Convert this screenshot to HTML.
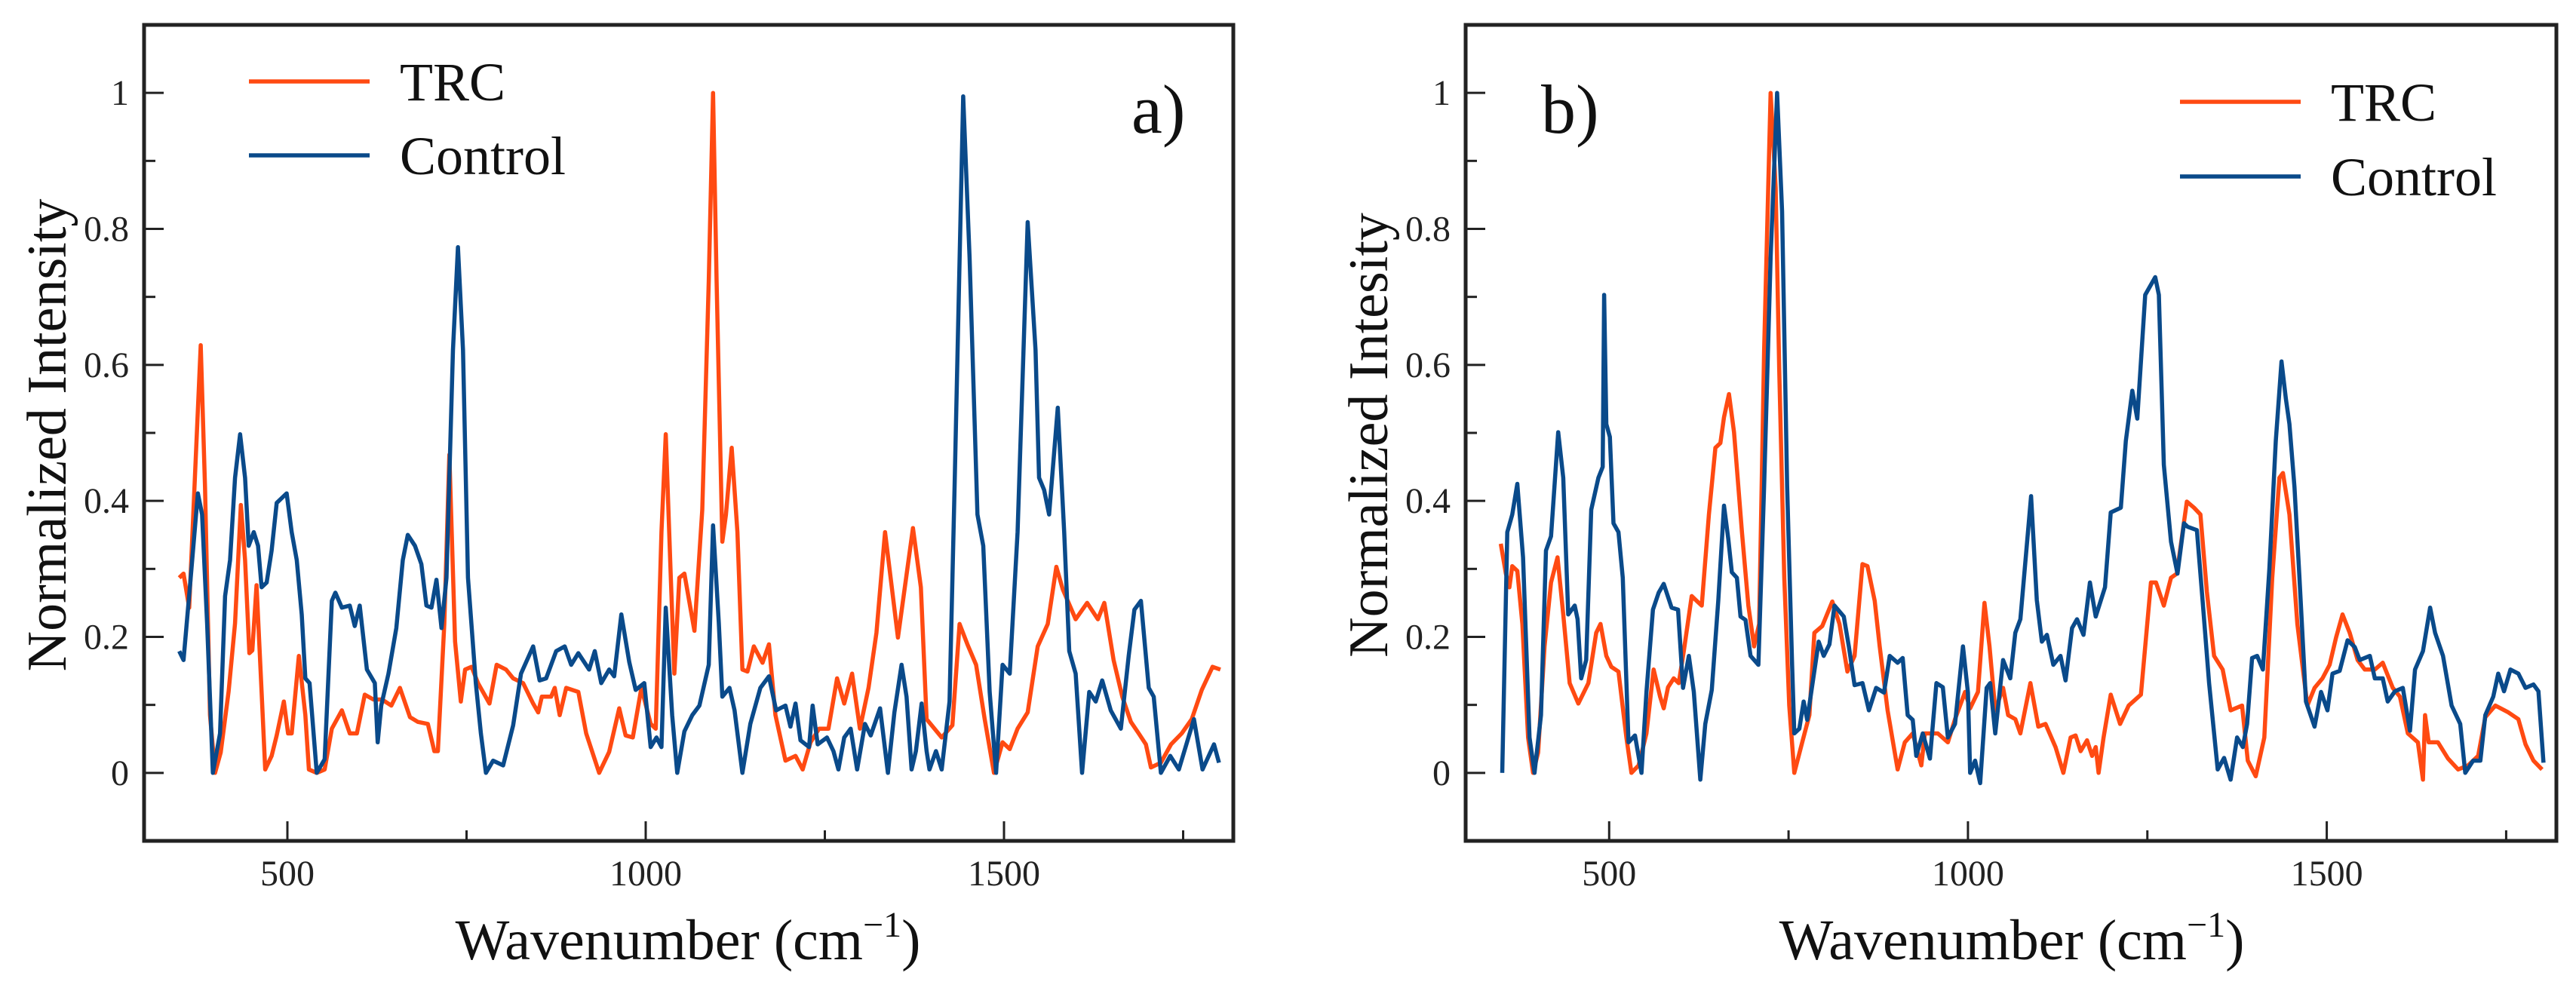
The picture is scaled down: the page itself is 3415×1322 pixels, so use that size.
<!DOCTYPE html>
<html><head><meta charset="utf-8"><style>
html,body{margin:0;padding:0;background:#fff;}
svg{display:block;font-family:"Liberation Serif","Times New Roman",serif;}
</style></head><body>
<svg id="fig" width="3415" height="1322" viewBox="0 0 3415 1322" xmlns="http://www.w3.org/2000/svg"></svg>
<script>
// ---- data ----
const xTicks=[500,1000,1500];
const xMinorTicks=[750,1250,1750];
const xTickLabels=["500","1000","1500"];
const yTicks=[0,0.2,0.4,0.6,0.8,1];
const yTickLabels=["0","0.2","0.4","0.6","0.8","1"];
const yMinorTicks=[0.1,0.3,0.5,0.7,0.9];
const seriesNames=["TRC","Control"];

const aTRC=[[349,0.287],[355,0.293],[363,0.243],[379,0.629],[385,0.42],[392,0.085],[399,0],[407,0.03],[418,0.12],[427,0.22],[435,0.394],[441,0.313],[447,0.176],[451,0.18],[457,0.276],[464,0.119],[469,0.005],[478,0.025],[485,0.055],[495,0.105],[501,0.058],[506,0.058],[516,0.172],[525,0.085],[530,0.005],[541,0],[552,0.005],[562,0.065],[576,0.092],[587,0.058],[597,0.058],[608,0.115],[620,0.108],[632,0.108],[645,0.099],[657,0.125],[671,0.082],[682,0.075],[696,0.072],[705,0.032],[710,0.032],[719,0.219],[726,0.468],[734,0.193],[742,0.105],[748,0.152],[757,0.156],[766,0.132],[782,0.102],[792,0.159],[805,0.152],[815,0.139],[829,0.132],[843,0.102],[850,0.089],[855,0.112],[868,0.112],[873,0.125],[880,0.085],[889,0.125],[906,0.119],[917,0.058],[935,0],[949,0.031],[963,0.095],[972,0.055],[982,0.052],[994,0.125],[1007,0.072],[1014,0.065],[1022,0.354],[1028,0.498],[1035,0.287],[1040,0.146],[1047,0.287],[1054,0.293],[1068,0.209],[1079,0.387],[1088,0.723],[1094,1.0],[1099,0.723],[1107,0.34],[1112,0.38],[1120,0.478],[1128,0.354],[1135,0.152],[1142,0.149],[1151,0.186],[1163,0.162],[1172,0.189],[1181,0.085],[1195,0.018],[1209,0.025],[1219,0.005],[1230,0.045],[1242,0.065],[1255,0.065],[1267,0.139],[1277,0.102],[1288,0.146],[1299,0.065],[1311,0.125],[1322,0.206],[1334,0.354],[1352,0.199],[1373,0.36],[1384,0.273],[1392,0.079],[1413,0.052],[1428,0.07],[1438,0.219],[1449,0.189],[1461,0.159],[1473,0.079],[1486,0],[1498,0.045],[1508,0.035],[1519,0.065],[1533,0.089],[1547,0.186],[1561,0.219],[1573,0.303],[1582,0.27],[1600,0.226],[1616,0.25],[1631,0.226],[1640,0.25],[1653,0.166],[1665,0.112],[1677,0.075],[1688,0.058],[1698,0.042],[1705,0.008],[1719,0.015],[1733,0.042],[1748,0.058],[1762,0.079],[1776,0.122],[1791,0.156],[1802,0.152]];

const aCtrl=[[349,0.179],[355,0.166],[365,0.287],[375,0.411],[381,0.38],[388,0.219],[396,0],[406,0.058],[413,0.26],[420,0.313],[427,0.434],[434,0.498],[441,0.434],[446,0.334],[453,0.354],[459,0.334],[464,0.273],[471,0.28],[478,0.327],[485,0.397],[499,0.411],[506,0.354],[513,0.313],[520,0.233],[525,0.139],[531,0.132],[541,0],[552,0.02],[562,0.253],[567,0.265],[576,0.243],[587,0.246],[594,0.216],[601,0.246],[611,0.152],[622,0.132],[626,0.045],[631,0.099],[641,0.146],[652,0.213],[661,0.313],[668,0.35],[678,0.334],[687,0.307],[694,0.246],[701,0.243],[708,0.284],[715,0.213],[722,0.287],[731,0.622],[738,0.773],[745,0.622],[752,0.287],[763,0.132],[770,0.058],[777,0],[787,0.018],[801,0.011],[815,0.07],[826,0.146],[843,0.186],[852,0.136],[861,0.139],[875,0.179],[887,0.186],[896,0.159],[906,0.176],[921,0.152],[929,0.179],[938,0.132],[949,0.152],[956,0.142],[966,0.233],[977,0.163],[986,0.122],[998,0.132],[1007,0.038],[1015,0.052],[1022,0.038],[1028,0.243],[1037,0.085],[1044,0],[1054,0.061],[1065,0.085],[1075,0.099],[1088,0.159],[1094,0.364],[1102,0.221],[1107,0.112],[1117,0.125],[1124,0.092],[1135,0],[1146,0.072],[1160,0.125],[1172,0.142],[1182,0.092],[1195,0.099],[1202,0.068],[1209,0.102],[1216,0.048],[1228,0.038],[1233,0.099],[1240,0.042],[1253,0.052],[1262,0.032],[1269,0.005],[1277,0.052],[1286,0.065],[1295,0.005],[1306,0.072],[1314,0.055],[1327,0.095],[1338,0],[1347,0.089],[1357,0.159],[1364,0.112],[1371,0.005],[1377,0.032],[1385,0.102],[1392,0.032],[1396,0.005],[1405,0.032],[1413,0.005],[1424,0.105],[1431,0.421],[1443,0.995],[1452,0.757],[1463,0.38],[1471,0.334],[1480,0.119],[1489,0],[1498,0.159],[1508,0.146],[1519,0.354],[1533,0.81],[1544,0.622],[1549,0.434],[1556,0.416],[1563,0.38],[1575,0.537],[1584,0.354],[1591,0.179],[1600,0.146],[1609,0],[1619,0.119],[1628,0.105],[1637,0.136],[1649,0.092],[1663,0.065],[1674,0.172],[1682,0.24],[1691,0.253],[1702,0.125],[1709,0.112],[1719,0],[1732,0.025],[1744,0.005],[1765,0.079],[1777,0.005],[1793,0.042],[1800,0.015]];

const bTRC=[[349,0.337],[356,0.293],[361,0.273],[365,0.304],[372,0.297],[379,0.219],[387,0.052],[394,0],[401,0.03],[410,0.186],[419,0.28],[428,0.317],[436,0.233],[445,0.132],[457,0.102],[471,0.132],[482,0.206],[488,0.219],[496,0.172],[503,0.156],[513,0.149],[524,0.052],[531,0],[541,0.011],[552,0.058],[562,0.152],[571,0.112],[576,0.095],[582,0.126],[590,0.139],[597,0.132],[604,0.179],[615,0.26],[622,0.253],[629,0.246],[639,0.38],[648,0.478],[655,0.485],[660,0.523],[667,0.557],[674,0.501],[685,0.354],[694,0.246],[702,0.186],[709,0.219],[716,0.622],[725,1.0],[732,0.86],[737,0.594],[744,0.287],[751,0.099],[758,0],[769,0.045],[779,0.085],[786,0.206],[797,0.216],[811,0.252],[821,0.219],[832,0.149],[842,0.172],[853,0.307],[860,0.304],[870,0.253],[877,0.186],[888,0.092],[902,0.005],[912,0.045],[923,0.058],[935,0.011],[940,0.058],[958,0.058],[972,0.045],[982,0.079],[996,0.119],[1003,0.095],[1014,0.119],[1023,0.25],[1030,0.186],[1038,0.092],[1049,0.125],[1056,0.085],[1066,0.079],[1073,0.058],[1087,0.132],[1098,0.068],[1108,0.072],[1122,0.038],[1133,0],[1143,0.052],[1150,0.055],[1157,0.032],[1166,0.048],[1173,0.025],[1178,0.038],[1182,0],[1189,0.052],[1199,0.115],[1212,0.072],[1224,0.099],[1241,0.115],[1255,0.28],[1262,0.28],[1273,0.246],[1283,0.287],[1291,0.293],[1305,0.399],[1315,0.39],[1324,0.38],[1333,0.266],[1343,0.172],[1355,0.152],[1366,0.092],[1382,0.099],[1390,0.018],[1401,-0.005],[1413,0.052],[1424,0.287],[1434,0.434],[1439,0.441],[1448,0.38],[1459,0.219],[1473,0.099],[1483,0.125],[1494,0.139],[1504,0.159],[1513,0.199],[1522,0.233],[1532,0.206],[1543,0.166],[1553,0.152],[1567,0.152],[1578,0.162],[1592,0.125],[1602,0.112],[1613,0.058],[1627,0.045],[1634,-0.01],[1637,0.085],[1642,0.045],[1655,0.045],[1669,0.021],[1683,0.005],[1697,0.011],[1711,0.025],[1721,0.082],[1735,0.099],[1753,0.089],[1767,0.079],[1777,0.042],[1788,0.018],[1800,0.005]];

const bCtrl=[[351,0],[358,0.354],[365,0.38],[372,0.425],[380,0.317],[389,0.052],[396,0],[405,0.085],[412,0.327],[419,0.348],[429,0.501],[436,0.434],[443,0.233],[452,0.246],[456,0.226],[461,0.139],[468,0.166],[475,0.387],[485,0.434],[491,0.45],[493,0.703],[496,0.513],[501,0.494],[506,0.367],[513,0.354],[519,0.287],[527,0.045],[536,0.055],[545,0],[552,0.119],[561,0.24],[569,0.265],[576,0.278],[587,0.243],[596,0.24],[603,0.125],[611,0.172],[618,0.119],[627,-0.01],[634,0.072],[643,0.122],[652,0.253],[660,0.393],[666,0.344],[671,0.295],[678,0.287],[683,0.23],[690,0.225],[697,0.172],[708,0.159],[716,0.422],[725,0.758],[734,1.0],[741,0.826],[748,0.422],[755,0.159],[758,0.058],[765,0.065],[771,0.105],[776,0.078],[792,0.193],[799,0.172],[807,0.189],[814,0.246],[827,0.23],[834,0.186],[842,0.129],[853,0.132],[862,0.092],[872,0.125],[883,0.118],[891,0.172],[902,0.162],[909,0.169],[916,0.085],[923,0.078],[928,0.025],[937,0.058],[947,0.021],[956,0.132],[965,0.126],[972,0.052],[982,0.072],[993,0.186],[1000,0.118],[1003,0],[1010,0.018],[1017,-0.015],[1026,0.125],[1031,0.132],[1038,0.058],[1049,0.166],[1059,0.139],[1066,0.206],[1073,0.226],[1088,0.407],[1096,0.254],[1103,0.193],[1110,0.203],[1119,0.159],[1129,0.172],[1136,0.136],[1145,0.213],[1152,0.226],[1161,0.203],[1170,0.28],[1178,0.23],[1191,0.273],[1199,0.383],[1213,0.39],[1220,0.488],[1229,0.562],[1236,0.521],[1247,0.703],[1261,0.729],[1266,0.703],[1273,0.453],[1283,0.34],[1292,0.293],[1301,0.367],[1306,0.362],[1319,0.357],[1327,0.253],[1336,0.132],[1348,0.005],[1357,0.022],[1366,-0.01],[1375,0.052],[1383,0.038],[1389,0.072],[1396,0.169],[1403,0.172],[1411,0.152],[1420,0.3],[1429,0.488],[1437,0.605],[1443,0.55],[1448,0.513],[1455,0.42],[1462,0.287],[1471,0.105],[1483,0.068],[1492,0.119],[1501,0.092],[1508,0.146],[1518,0.15],[1529,0.195],[1539,0.185],[1546,0.166],[1560,0.172],[1567,0.139],[1578,0.139],[1585,0.105],[1595,0.12],[1606,0.125],[1616,0.062],[1623,0.152],[1634,0.179],[1644,0.243],[1651,0.206],[1662,0.172],[1674,0.099],[1686,0.072],[1693,0],[1704,0.018],[1714,0.018],[1721,0.085],[1732,0.112],[1739,0.146],[1747,0.12],[1756,0.152],[1767,0.146],[1777,0.125],[1788,0.13],[1795,0.12],[1802,0.015]];

// ---- layout ----
const NS="http://www.w3.org/2000/svg";
const svg=document.getElementById('fig');
const COLORS={TRC:"#ff4a12",Control:"#0a4a8a"};
const XMIN=300,XMAX=1820,YMIN=-0.1,YMAX=1.1;
const TOP=33,BOT=1115;
function mk(tag,attrs,parent){const e=document.createElementNS(NS,tag);for(const k in attrs)e.setAttribute(k,attrs[k]);(parent||svg).appendChild(e);return e;}

function panel(id,L,R,trc,ctrl,ytitle,letter,letterX,legX,legY1,legY2,xtitleX,ytitleX){
  const g=mk('g',{});
  
  
  const xs=v=>L+(v-XMIN)/(XMAX-XMIN)*(R-L);
  const ys=v=>BOT-(v-YMIN)/(YMAX-YMIN)*(BOT-TOP);
  [[trc,"TRC"],[ctrl,"Control"]].forEach(([d,n])=>{
    const p=mk('path',{d:d.map((pt,i)=>(i?'L':'M')+xs(pt[0]).toFixed(1)+' '+ys(pt[1]).toFixed(1)).join(''),fill:'none',stroke:COLORS[n],'stroke-width':5.5,'stroke-linejoin':'round'},g);
    
    
  });
  const fr=mk('rect',{x:L,y:TOP,width:R-L,height:BOT-TOP,fill:'none',stroke:'#222','stroke-width':5},g);
  
  
  xTicks.forEach((t,i)=>{
    mk('line',{x1:xs(t),x2:xs(t),y1:BOT,y2:BOT-26,stroke:'#222','stroke-width':3},g);
    const tx=mk('text',{x:xs(t),y:1174,'font-size':48,'text-anchor':'middle',fill:'#222'},g);
    tx.textContent=xTickLabels[i];
    
    
  });
  xMinorTicks.forEach(t=>mk('line',{x1:xs(t),x2:xs(t),y1:BOT,y2:BOT-14,stroke:'#222','stroke-width':3},g));
  yTicks.forEach((t,i)=>{
    mk('line',{x1:L,x2:L+26,y1:ys(t),y2:ys(t),stroke:'#222','stroke-width':3},g);
    const tx=mk('text',{x:L-20,y:ys(t)+16,'font-size':48,'text-anchor':'end',fill:'#222'},g);
    tx.textContent=yTickLabels[i];
    
    
  });
  yMinorTicks.forEach(t=>mk('line',{x1:L,x2:L+15,y1:ys(t),y2:ys(t),stroke:'#222','stroke-width':3},g));
  const xt=mk('text',{x:xtitleX,y:1272,'font-size':76,'text-anchor':'middle',fill:'#111'},g);
  xt.innerHTML='Wavenumber (cm<tspan font-size="48" dy="-30">−1</tspan><tspan dy="30">)</tspan>';
  
  
  const yt=mk('text',{x:0,y:0,'font-size':74,'text-anchor':'middle',fill:'#111',transform:`translate(${ytitleX+25},577) rotate(-90)`},g);
  yt.textContent=ytitle;
  
  
  [[legY1,"TRC"],[legY2,"Control"]].forEach(([y,n])=>{
    const lg=mk('g',{},g);
    
    
    mk('line',{x1:legX,x2:legX+160,y1:y,y2:y,stroke:COLORS[n],'stroke-width':5.5},lg);
    const t=mk('text',{x:legX+200,y:y+25,'font-size':72,fill:'#111'},lg);
    t.textContent=n;
  });
  const lt=mk('text',{x:letterX,y:176,'font-size':92,fill:'#111'},g);
  lt.textContent=letter;
  
  
}
panel('a',191,1635,aTRC,aCtrl,'Normalized Intensity','a)',1500,330,108,206,912,62);
panel('b',1943,3389,bTRC,bCtrl,'Normalized Intesity','b)',2043,2890,135,234,2667,1814);
</script>
</body></html>
